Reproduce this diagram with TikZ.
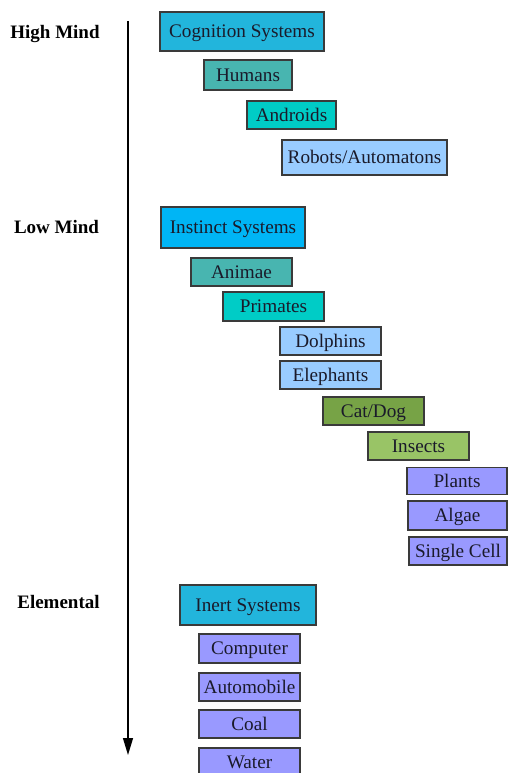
\documentclass[tikz,border=0pt]{standalone}
\usepackage{fontspec}
\setmainfont{Liberation Serif}
\usetikzlibrary{arrows.meta}
\definecolor{cogc}{HTML}{22B5DC}
\definecolor{instc}{HTML}{00B5F5}
\definecolor{tealc}{HTML}{48B5B0}
\definecolor{turqc}{HTML}{00CCC6}
\definecolor{lblue}{HTML}{99CCFF}
\definecolor{olivec}{HTML}{77A346}
\definecolor{lgreen}{HTML}{99C466}
\definecolor{lavc}{HTML}{9999FF}
\definecolor{edgec}{HTML}{3A3A3A}
\definecolor{txtc}{HTML}{1A1A2A}
\tikzset{
  box/.style={draw=edgec, line width=1.2pt, inner sep=0pt, text=txtc,
    font=\fontsize{19.2}{23}\selectfont, text height=12.6pt, text depth=0pt},
  lvl/.style={font=\fontsize{19}{23}\selectfont\bfseries, text=black, inner sep=0pt},
  axis/.style={line width=1.3pt, -{Triangle[width=10pt,length=17pt]}}
}
\begin{document}
\begin{tikzpicture}[x=1pt,y=-1pt]
\useasboundingbox (0,0) rectangle (508,773);
\clip (0,0) rectangle (508,773);
\coordinate (top) at (128,21);
\coordinate (bot) at (128,755);
\draw[axis] (top) -- (bot);
\node[lvl] (hm) at (55,34) {High Mind};
\node[lvl] (lm) at (56.5,227) {Low Mind};
\node[lvl] (el) at (58.5,602) {Elemental};
\node[box, fill=cogc, minimum width=164pt, minimum height=39pt] (cog) at (242,31.5) {Cognition Systems};
\node[box, fill=tealc, minimum width=88pt, minimum height=30pt] (hum) at (248,75) {Humans};
\node[box, fill=turqc, minimum width=89pt, minimum height=28pt] (and) at (291.5,115) {Androids};
\node[box, fill=lblue, minimum width=165pt, minimum height=35pt] (rob) at (364.5,157.5) {Robots/Automatons};
\node[box, fill=instc, minimum width=144pt, minimum height=41pt] (ins) at (233,227.5) {Instinct Systems};
\node[box, fill=tealc, minimum width=101pt, minimum height=28pt] (ani) at (241.5,272) {Animae};
\node[box, fill=turqc, minimum width=101pt, minimum height=29pt] (pri) at (273.5,306.5) {Primates};
\node[box, fill=lblue, minimum width=101pt, minimum height=28pt] (dol) at (330.5,341) {Dolphins};
\node[box, fill=lblue, minimum width=101pt, minimum height=28pt] (ele) at (330.5,375) {Elephants};
\node[box, fill=olivec, minimum width=101pt, minimum height=28pt] (cat) at (373.5,411) {Cat/Dog};
\node[box, fill=lgreen, minimum width=101pt, minimum height=28pt] (inse) at (418.5,446) {Insects};
\node[box, fill=lavc, minimum width=100pt, minimum height=27pt] (pla) at (457,481) {Plants};
\node[box, fill=lavc, minimum width=99pt, minimum height=29pt] (alg) at (457.5,515.5) {Algae};
\node[box, fill=lavc, minimum width=98pt, minimum height=28pt] (sc) at (458,551) {Single Cell};
\node[box, fill=cogc, minimum width=136pt, minimum height=40pt] (ine) at (248,605) {Inert Systems};
\node[box, fill=lavc, minimum width=101pt, minimum height=29pt] (com) at (249.5,648.5) {Computer};
\node[box, fill=lavc, minimum width=101pt, minimum height=28pt] (aut) at (249.5,687) {Automobile};
\node[box, fill=lavc, minimum width=101pt, minimum height=28pt] (coa) at (249.5,724) {Coal};
\node[box, fill=lavc, minimum width=101pt, minimum height=28pt] (wat) at (249.5,762) {Water};
\end{tikzpicture}
\end{document}
